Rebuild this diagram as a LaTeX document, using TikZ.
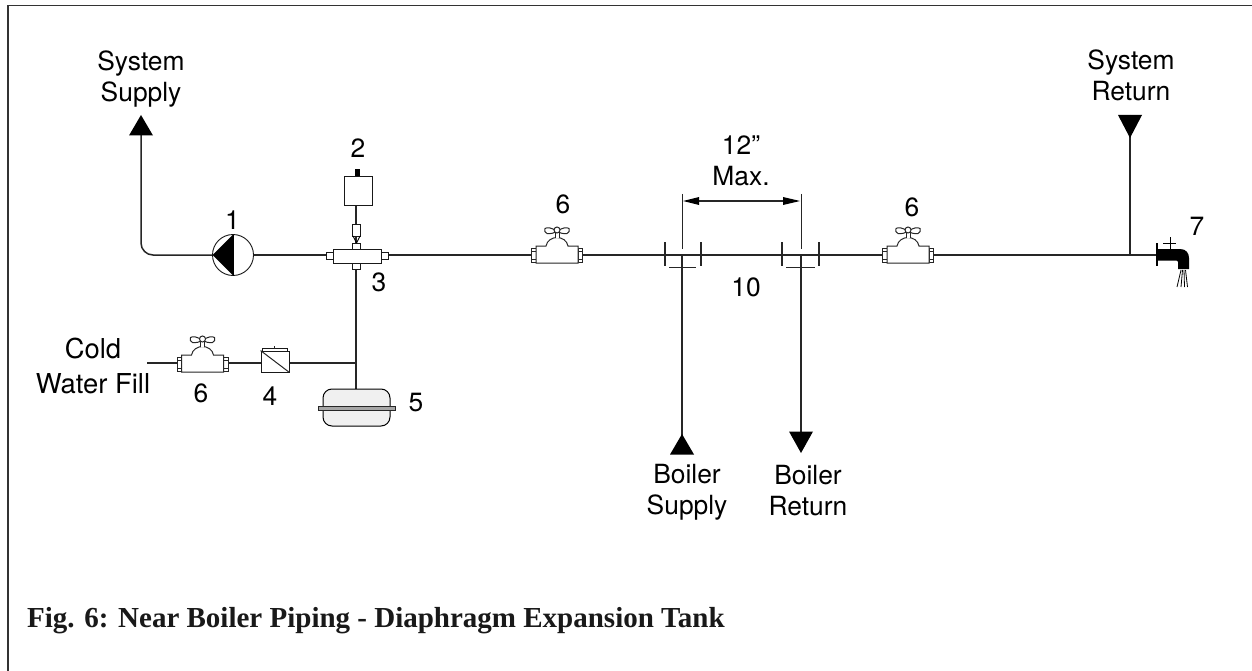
\documentclass[tikz,border=0pt]{standalone}
\usepackage{fontspec}
\setmainfont{TeX Gyre Heros}
\newfontfamily\capfont{Liberation Serif}
\usetikzlibrary{shapes.geometric}
\tikzset{
  pipe/.style={draw=black!85,line width=1.5pt},
  thinl/.style={draw=black!85,line width=1pt},
  lab/.style={font=\fontsize{26.4}{31}\selectfont,align=center,text=black,inner sep=0pt},
  part/.style={draw=black!90,line width=.9pt,fill=white,rectangle,inner sep=0pt},
  valve/.pic={
    \draw[thinl,fill=white] (-25.5,-6.5) rectangle (-21,7.5);
    \draw[thinl,fill=white] (21,-6.5) rectangle (25.5,7.5);
    \draw[thinl] (-25.5,-3.5) -- (-21,-3.5) (-25.5,4.5) -- (-21,4.5) (21,-3.5) -- (25.5,-3.5) (21,4.5) -- (25.5,4.5);
    \draw[thinl,fill=white] (-21,-8.5) -- (-11,-8.5) .. controls (-10,-14) and (-5,-17) .. (0,-17)
       .. controls (5,-17) and (10,-14) .. (11,-8.5) -- (21,-8.5) -- (21,8.5) -- (-21,8.5) -- cycle;
    \draw[thinl,fill=white] (-2,-17) -- (-2,-24) -- (2,-24) -- (2,-17);
    \draw[thinl,fill=white] (0,-23) .. controls (-5,-27) and (-10,-27.5) .. (-12,-26) .. controls (-13,-24) and (-12,-21.5) .. (-10,-21) .. controls (-6,-20.5) and (-3,-21.5) .. (0,-23);
    \draw[thinl,fill=white] (0,-23) .. controls (5,-27) and (10,-27.5) .. (12,-26) .. controls (13,-24) and (12,-21.5) .. (10,-21) .. controls (6,-20.5) and (3,-21.5) .. (0,-23);
    \draw[thinl,fill=white] (0,-24.5) circle (3);
  }
}
\begin{document}
\begin{tikzpicture}[x=1pt,y=-1pt]
\useasboundingbox (0,0) rectangle (1252,671);
\fill[white] (0,0) rectangle (1252,671);
\draw[line width=1.3pt,draw=black!80] (8,671) -- (8,5.5) -- (1252,5.5);

% anchor coordinates
\coordinate (supUp) at (141,135);
\coordinate (retUp) at (1130,115);
\coordinate (retJoin) at (1130,255);
\coordinate (fillStart) at (147,363);
\coordinate (fillJoin) at (356,363);
\coordinate (bsTop) at (682,194);
\coordinate (brTop) at (801,194);
\coordinate (bsMain) at (682,255);
\coordinate (brMain) at (801,255);
\coordinate (bsBot) at (682,436);
\coordinate (brBot) at (801,434);
\coordinate (fl1) at (665,255);
\coordinate (fl2) at (701,255);
\coordinate (fl3) at (782,255);
\coordinate (fl4) at (819,255);

% main pipes (drawn first, parts cover them)
\draw[pipe,rounded corners=12pt] (supUp) |- (233,255);
\draw[pipe] (233,255) -- (356,255) -- (557,255) -- (908,255) -- (1157,255);
\draw[pipe] (retUp) -- (retJoin);
\draw[pipe] (fillStart) -- (fillJoin);
\draw[pipe] (356,255) -- (356,392);
\draw[pipe] (356,176) -- (356,243);

% pump
\node[part,circle,minimum size=41pt] (pump) at (233,255) {};
\fill[black] (212.5,255) -- (233,234.5) -- (233,275.5) -- cycle;
\draw[line width=1pt] (233,234.5) -- (233,275.5);

% expansion vent (2)
\node[part,minimum width=28pt,minimum height=29pt] (vent) at (358,190.5) {};
\node[fill=black,rectangle,inner sep=0pt,minimum width=5pt,minimum height=7pt] (ventcap) at (357,172.5) {};
\node[part,minimum width=8pt,minimum height=12pt] (coupling) at (356.5,230) {};
\draw[line width=.9pt] (353,236) -- (356.5,243) -- (360,236);

% tee (3)
\node[part,minimum width=7pt,minimum height=7pt] (teeL) at (330,255.5) {};
\node[part,minimum width=7pt,minimum height=7pt] (teeR) at (384.5,255.5) {};
\node[part,minimum width=8pt,minimum height=26pt] (teeV) at (356,256) {};
\node[part,minimum width=48pt,minimum height=14pt] (teeH) at (357,256) {};
\fill[white] (352.6,249.8) rectangle (359.4,262.2);

% check valve (4)
\node[part,minimum width=28pt,minimum height=21pt] (chk) at (275,361.5) {};
\draw[thinl] (chk.north west) -- (chk.south east);
\node[part,minimum width=25pt,minimum height=2.5pt] (chkcap) at (274.5,349.7) {};
\draw[thinl] (274,349) -- (274,345.5);

% tank (5)
\node[draw=black,line width=1pt,fill=black!6,rectangle,rounded corners=9pt,minimum width=67pt,minimum height=37pt,inner sep=0pt] (tank) at (356.5,407.5) {};
\node[draw=black!85,line width=1pt,fill=black!35,rectangle,minimum width=77pt,minimum height=4pt,inner sep=0pt] (band) at (356.5,408) {};

% valves (6)
\pic at (202.5,363.5) {valve};
\pic at (557,254.5) {valve};
\pic at (908,254.5) {valve};

% unions and boiler pipes
\draw[pipe] (bsMain) -- (bsBot);
\draw[pipe] (brMain) -- (brBot);
\draw[thinl] (bsTop) -- (682,249);
\draw[thinl] (brTop) -- (801,249);
\draw[pipe,line width=1.2pt] (fl1|-0,242) -- (fl1|-0,266);
\draw[pipe,line width=1.2pt] (fl2|-0,242) -- (fl2|-0,266);
\draw[pipe,line width=1.2pt] (fl3|-0,242) -- (fl3|-0,266);
\draw[pipe,line width=1.2pt] (fl4|-0,242) -- (fl4|-0,266);
\draw[pipe,line width=1.2pt] (669,267.5) -- (696,267.5);
\draw[pipe,line width=1.2pt] (786,267.5) -- (815,267.5);

% dimension
\draw[thinl] (690,201) -- (793,201);
\fill[black] (683,201) -- (699,197) -- (699,205) -- cycle;
\fill[black] (800,201) -- (783,197) -- (783,205) -- cycle;

% flow arrows
\fill[black] (141,115) -- (153,135.5) -- (129,135.5) -- cycle;
\fill[black] (1130,138) -- (1118,115) -- (1142,115) -- cycle;
\fill[black] (682,434) -- (694,454.5) -- (670,454.5) -- cycle;
\fill[black] (801,453) -- (789,431.5) -- (813,431.5) -- cycle;

% faucet (7)
\draw[line width=1.6pt,draw=black] (1157,243) -- (1157,266);
\fill[black] (1157,249) -- (1180,249) .. controls (1186,249) and (1189,253) .. (1189,258) -- (1189,269) -- (1178,269) -- (1178,262) .. controls (1178,261) and (1177,260.5) .. (1176,260.5) -- (1157,260.5) -- cycle;
\draw[line width=1pt] (1170,237) -- (1170,249) (1163,243.5) -- (1176,243.5);
\draw[line width=.8pt] (1181,270) -- (1177,287) (1182.5,270) -- (1181,287) (1184,270) -- (1184.5,287) (1185.5,270) -- (1187.5,287);

% labels
\node[lab] (tSup) at (141,79) {System\\Supply};
\node[lab] (tRet) at (1131,75.5) {System\\Return};
\node[lab] (t1) at (232.5,220) {1};
\node[lab] (t2) at (358,148) {2};
\node[lab] (t3) at (379,282) {3};
\node[lab] (t4) at (270,396) {4};
\node[lab] (t5) at (416,403) {5};
\node[lab] (t6a) at (201,393) {6};
\node[lab] (t6b) at (563,204) {6};
\node[lab] (t6c) at (912,207) {6};
\node[lab] (t7) at (1197,226) {7};
\node[lab] (t10) at (746,287) {10};
\node[lab] (tMax) at (741,161) {12"\\Max.};
\node[lab,font=\fontsize{27.4}{35}\selectfont] (tCold) at (93,365.5) {Cold\\Water Fill};
\node[lab] (tBS) at (687,492) {Boiler\\Supply};
\node[lab] (tBR) at (808,490.5) {Boiler\\Return};
\node[anchor=base west,inner sep=0pt,text=black!90,font=\capfont\bfseries\fontsize{29}{34}\selectfont] (tCap) at (27,627) {Fig. 6: Near Boiler Piping - Diaphragm Expansion Tank};
\end{tikzpicture}
\end{document}
